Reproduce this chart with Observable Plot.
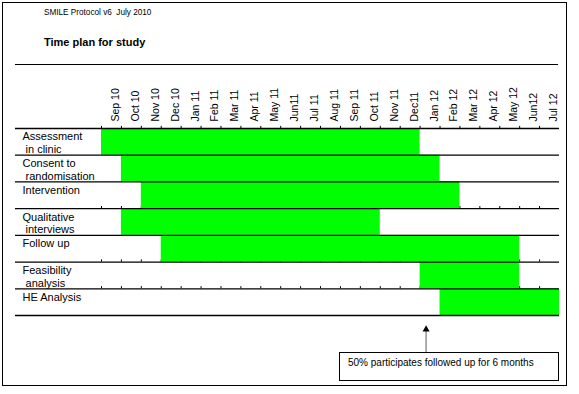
<!DOCTYPE html>
<html><head><meta charset="utf-8">
<script src="https://cdn.jsdelivr.net/npm/d3@7"></script>
<script src="https://cdn.jsdelivr.net/npm/@observablehq/plot@0.6"></script>
<style>
html,body{margin:0;padding:0;background:#fff;}
#wrap{position:relative;width:579px;height:394px;font-family:"Liberation Sans",Arial,sans-serif;overflow:hidden;color:#000;}
#chart{position:absolute;left:0;top:0;}
#border{position:absolute;left:2px;top:2px;width:563px;height:382px;border:1.5px solid #000;}
#hdr{position:absolute;left:44px;top:8.2px;font-size:8.2px;white-space:pre;line-height:normal;}
#title{position:absolute;left:44px;top:35.7px;font-size:11px;font-weight:bold;line-height:normal;}
#topline{position:absolute;left:15px;top:64px;width:543px;height:0;border-top:1.3px solid #000;}
#note{position:absolute;left:339px;top:352px;width:220px;height:29px;border:1px solid #000;box-sizing:border-box;font-size:10px;line-height:20px;padding-left:8px;white-space:nowrap;}
</style></head><body>
<div id="wrap">
  <div id="chart"></div>
  <div id="border"></div>
  <div id="hdr"></div>
  <div id="title"></div>
  <div id="topline"></div>
  <div id="note"></div>
</div>
<script>
const headerText = "SMILE Protocol v6  July 2010";
const titleText = "Time plan for study";
const months = ["Sep 10","Oct 10","Nov 10","Dec 10","Jan 11","Feb 11","Mar 11","Apr 11","May 11","Jun11","Jul 11","Aug 11","Sep 11","Oct 11","Nov 11","Dec11","Jan 12","Feb 12","Mar 12","Apr 12","May 12","Jun12","Jul 12"];
const tasks = ["Assessment\n\u00a0in clinic","Consent to\n\u00a0randomisation","Intervention","Qualitative\n\u00a0interviews","Follow up","Feasibility\n\u00a0analysis","HE Analysis"];
const startMonth = [0,1,2,1,3,16,17];   // index of first month (Sep 10 = 0)
const endMonth   = [16,17,18,14,21,21,23]; // exclusive end month index
const tickRows = [0,3,5,6];
const noteText = "50% participates followed up for 6 months";
const noteMonth = 16.3;

document.getElementById("hdr").textContent = headerText;
document.getElementById("title").textContent = titleText;
document.getElementById("note").textContent = noteText;

const rows = tasks.map((t,i)=>({label:t, i, start:startMonth[i], end:endMonth[i]}));
const ticks = [];
for (const r of tickRows) for (let k=0;k<months.length;k++) ticks.push({x:k, row:r});
const note = [{x:noteMonth}];

const chart = Plot.plot({
  width: 579, height: 394,
  marginLeft: 15, marginRight: 20, marginTop: 128, marginBottom: 79,
  x: {domain:[0, months.length], range:[101,559], axis:null},
  y: {domain:[0, tasks.length], reverse:true, axis:null},
  style: {fontFamily:"Liberation Sans, Arial, sans-serif", background:"none", overflow:"visible", color:"#000"},
  marks: [
    Plot.ruleX(ticks, {x:"x", y1:d=>d.row-0.08, y2:d=>d.row, stroke:"#000", strokeWidth:1}),
    Plot.rect(rows, {x1:"start", x2:"end", y1:"i", y2:d=>d.i+1, fill:"#00ff00"}),
    Plot.ruleY(d3.range(tasks.length+1), {stroke:"#000", strokeWidth:1.3}),
    Plot.text(rows, {y:"i", text:"label", frameAnchor:"left", textAnchor:"start", lineAnchor:"top", dx:7, dy:3, fontSize:11, lineHeight:1.15, fill:"#000"}),
    Plot.text(months, {x:(d,i)=>i+0.5, text:d=>d, frameAnchor:"top", rotate:-90, textAnchor:"start", dy:-7, fontSize:10.5, fill:"#000"}),
    Plot.ruleX(note, {x:"x", y1:8.41, y2:7.56, stroke:"#808080", strokeWidth:1.3}),
    Plot.dot(note, {x:"x", y:7.52, symbol:"triangle", r:2.6, fill:"#000", stroke:null})
  ]
});
document.getElementById("chart").appendChild(chart);
</script>
</body></html>
